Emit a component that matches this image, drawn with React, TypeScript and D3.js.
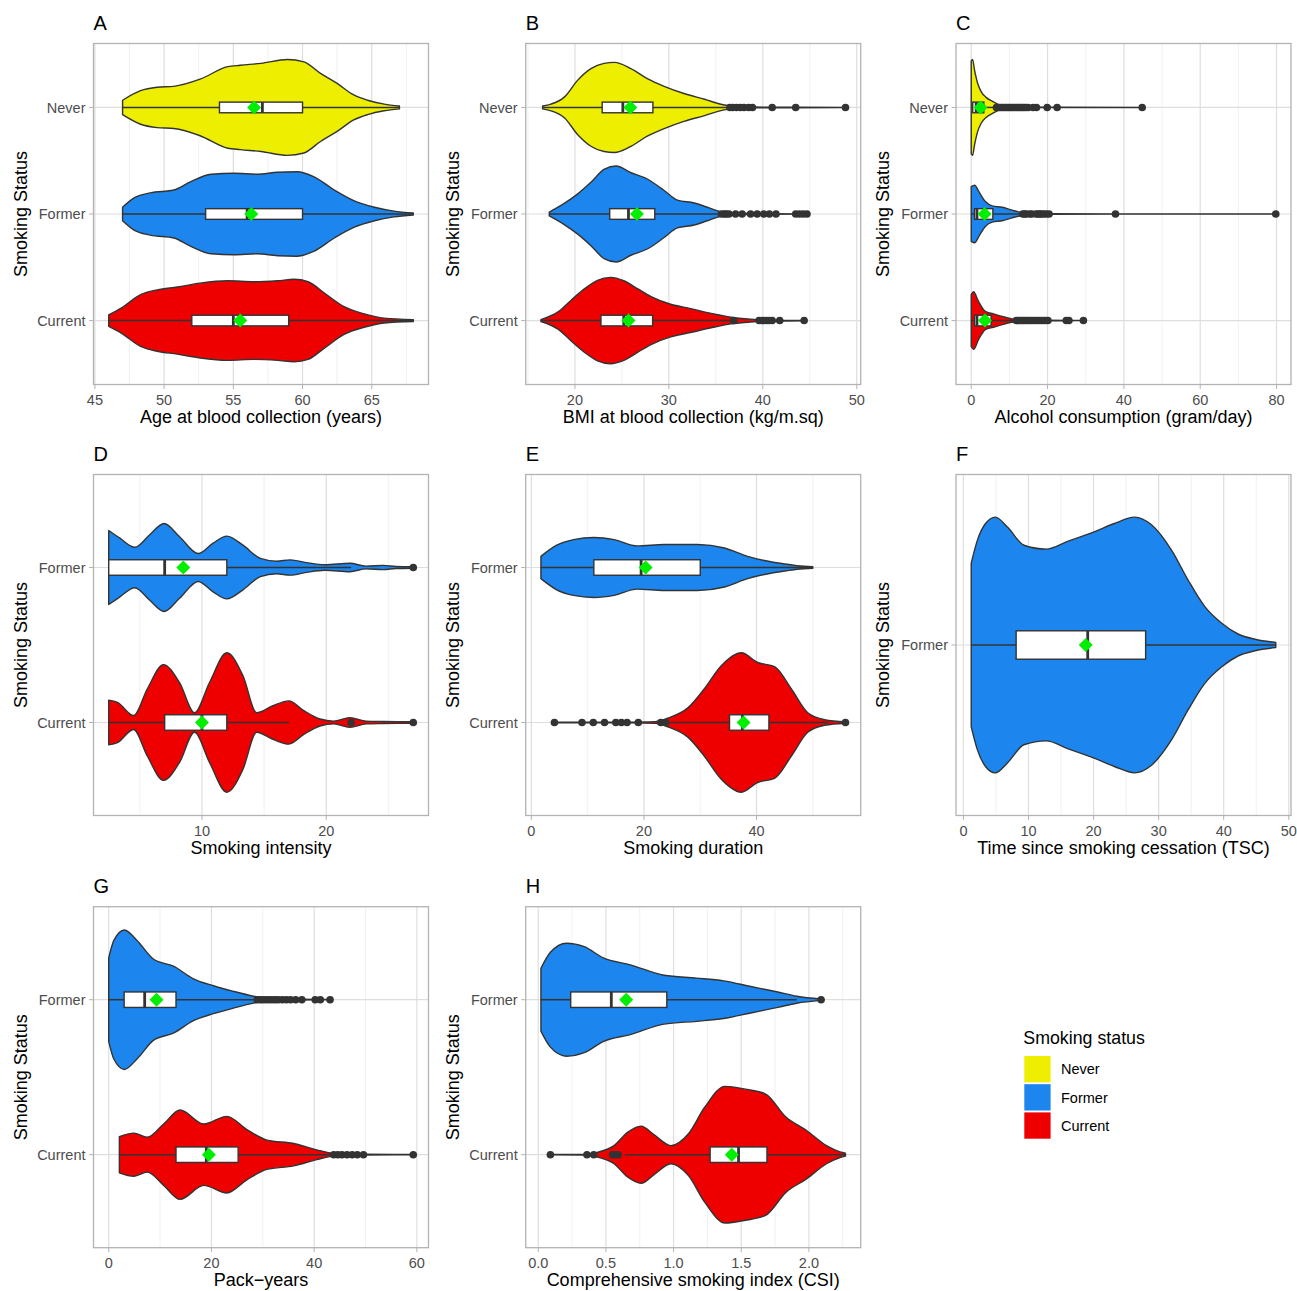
import React from 'react';
import * as d3 from 'd3';

type Pt = [number, number];

// ---------- categories & colours ----------
const CATS3 = ['Never', 'Former', 'Current'];
const CATS2 = ['Former', 'Current'];
const CATS1 = ['Former'];
const COLORS: Record<string, string> = { Never: '#EEEE00', Former: '#1C86EE', Current: '#EE0000' };

// ---------- A: age ----------
const ageNeverDens: Pt[] = [[47, 0.15], [48.3, 0.35], [49.5, 0.42], [50.7, 0.44], [52.6, 0.59], [54.6, 0.85], [55.5, 0.88], [57.0, 0.92], [58.9, 1.0], [60.1, 0.95], [61.3, 0.71], [62.5, 0.5], [63.7, 0.26], [64.7, 0.15], [65.9, 0.07], [67.0, 0.03]];
const ageFormerDens: Pt[] = [[47, 0.14], [47.8, 0.33], [49, 0.44], [50.7, 0.5], [51.9, 0.67], [53.4, 0.83], [55.05, 0.85], [56.7, 0.83], [58.2, 0.87], [59.6, 0.88], [60.8, 0.78], [62.3, 0.5], [63.7, 0.28], [65.2, 0.14], [66.6, 0.06], [68, 0.02]];
const ageCurrentDens: Pt[] = [[46, 0.12], [46.9, 0.26], [48.3, 0.54], [49.5, 0.64], [50.95, 0.7], [52.6, 0.78], [54.6, 0.83], [56.5, 0.81], [58.2, 0.83], [59.4, 0.86], [60.4, 0.81], [61.6, 0.57], [63.0, 0.29], [64.45, 0.14], [65.9, 0.05], [68, 0.02]];
// [lo, q1, median, q3, hi, mean]
const ageNeverStats = [47, 54, 57.1, 60, 67, 56.5];
const ageFormerStats = [47, 53, 56, 60, 68, 56.3];
const ageCurrentStats = [46, 52, 55, 59, 68, 55.5];
const ageTicks = [45, 50, 55, 60, 65];

// ---------- B: BMI ----------
const bmiNeverDens: Pt[] = [[16.56, 0.03], [17.45, 0.07], [18.9, 0.22], [20.3, 0.57], [21.7, 0.81], [23.1, 0.92], [24.2, 0.94], [25.96, 0.81], [27.7, 0.6], [29.5, 0.44], [31.6, 0.29], [33.8, 0.17], [35.9, 0.05], [37.3, 0.02], [39, 0.01], [41, 0.006], [43.5, 0.005], [48.8, 0.002]];
const bmiFormerDens: Pt[] = [[17.27, 0.04], [18.86, 0.22], [20.3, 0.42], [21.7, 0.66], [23.1, 0.93], [24.4, 1.0], [25.96, 0.86], [27.7, 0.73], [29.5, 0.49], [30.9, 0.29], [32.7, 0.23], [34.1, 0.14], [35.5, 0.05], [36.9, 0.02], [40, 0.008], [44.8, 0.003]];
const bmiCurrentDens: Pt[] = [[16.38, 0.02], [18.2, 0.18], [19.57, 0.42], [21, 0.66], [22.4, 0.84], [23.8, 0.9], [25.2, 0.83], [26.7, 0.66], [28.1, 0.5], [30.2, 0.34], [32.3, 0.25], [34.5, 0.15], [36.6, 0.07], [38.7, 0.03], [41, 0.01], [44.4, 0.003]];
const bmiNeverStats = [16.56, 22.9, 25.1, 28.3, 36.3, 25.9];
const bmiFormerStats = [17.27, 23.7, 25.7, 28.5, 35.5, 26.6];
const bmiCurrentStats = [16.38, 22.77, 25.2, 28.27, 36.5, 25.7];
const bmiNeverOut = [36.5, 36.8, 37.2, 37.6, 38.0, 38.5, 38.9, 41.0, 43.5, 48.8];
const bmiFormerOut = [35.6, 35.9, 36.1, 36.4, 37.1, 37.8, 38.7, 39.4, 40.1, 40.7, 41.4, 43.5, 43.9, 44.3, 44.7];
const bmiCurrentOut = [36.9, 39.6, 39.9, 40.1, 40.4, 40.7, 41.0, 41.8, 44.4];
const bmiTicks = [20, 30, 40, 50];

// ---------- C: alcohol ----------
const alcNeverDens: Pt[] = [[0, 0.97], [0.35, 1.0], [0.87, 0.78], [1.7, 0.5], [2.6, 0.33], [3.9, 0.21], [5.7, 0.12], [7.4, 0.05], [9.2, 0.02], [15, 0.008], [22.5, 0.004], [44.8, 0.002]];
const alcFormerDens: Pt[] = [[0, 0.57], [0.9, 0.6], [1.97, 0.47], [3.7, 0.26], [5.5, 0.17], [8.1, 0.14], [10.7, 0.08], [13.4, 0.03], [17, 0.012], [20.4, 0.006], [37.8, 0.002], [79.8, 0.001]];
const alcCurrentDens: Pt[] = [[0, 0.54], [0.6, 0.6], [1.9, 0.4], [3.7, 0.19], [5.8, 0.14], [8.4, 0.08], [11.0, 0.03], [15, 0.012], [20, 0.006], [25.5, 0.003], [29.5, 0.001]];
const alcNeverStats = [0, 0.4, 1.3, 3.3, 6.3, 2.45];
const alcFormerStats = [0, 0.87, 1.5, 5.67, 12.8, 3.5];
const alcCurrentStats = [0, 0.87, 1.5, 5.2, 11.6, 3.6];
const alcNeverOut = [6.6, 7.0, 7.4, 7.9, 8.3, 8.8, 9.2, 9.7, 10.1, 10.6, 11.0, 11.5, 12.0, 12.4, 12.9, 13.3, 13.8, 14.3, 14.9, 16.2, 17.1, 19.9, 22.5, 44.8];
const alcFormerOut = [13.5, 14.0, 14.4, 15.3, 15.9, 17.0, 17.5, 18.0, 18.4, 19.0, 19.7, 20.4, 37.8, 79.8];
const alcCurrentOut = [11.8, 12.3, 12.8, 13.3, 13.8, 14.3, 14.8, 15.3, 15.9, 16.5, 17.1, 17.7, 18.3, 18.9, 19.5, 20.1, 24.9, 25.6, 29.4];
const alcTicks = [0, 20, 40, 60, 80];

// ---------- D: smoking intensity ----------
const intFormerDens: Pt[] = [[2.5, 0.53], [3.4, 0.42], [4.6, 0.29], [5.8, 0.47], [6.95, 0.63], [8.2, 0.44], [9.7, 0.2], [10.9, 0.35], [12.0, 0.45], [13.3, 0.32], [14.7, 0.13], [16.0, 0.09], [17.1, 0.11], [18.4, 0.07], [19.9, 0.04], [21.9, 0.06], [23.2, 0.02], [24.6, 0.03], [25.6, 0.015], [27, 0.01]];
const intCurrentDens: Pt[] = [[2.5, 0.32], [3.2, 0.29], [4.5, 0.1], [5.6, 0.48], [6.9, 0.83], [8.2, 0.57], [9.4, 0.14], [10.6, 0.57], [12.0, 1.0], [13.3, 0.67], [14.4, 0.14], [15.7, 0.24], [17.0, 0.31], [18.2, 0.17], [19.5, 0.05], [20.6, 0.02], [21.9, 0.07], [23.2, 0.02], [24.6, 0.015], [27, 0.01]];
const intFormerStats = [2.5, 2.5, 7.0, 12.0, 22.0, 8.5];
const intCurrentStats = [2.5, 7.0, 10.0, 12.0, 17.0, 10.0];
const intFormerOut = [27];
const intCurrentOut = [22, 27];
const intTicks = [10, 20];

// ---------- E: smoking duration ----------
const durFormerDens: Pt[] = [[1.7, 0.16], [4.5, 0.32], [7.5, 0.4], [11.1, 0.43], [14.7, 0.4], [18.8, 0.31], [23.6, 0.33], [29.5, 0.33], [34.3, 0.28], [38.4, 0.16], [41.4, 0.1], [45, 0.05], [47.3, 0.025], [50, 0.01]];
const durCurrentDens: Pt[] = [[4.1, 0.004], [10, 0.005], [17, 0.006], [22, 0.012], [24.5, 0.07], [27.8, 0.21], [30.7, 0.48], [33.7, 0.81], [37.3, 1.0], [40.2, 0.86], [43.2, 0.8], [46.2, 0.48], [49.1, 0.14], [52.1, 0.04], [55.8, 0.01]];
const durFormerStats = [1.7, 11.1, 19.5, 30.0, 50, 20.3];
const durCurrentStats = [24.7, 35.2, 37.5, 42.2, 52.7, 37.7];
const durFormerOut: number[] = [];
const durCurrentOut = [4.1, 9.0, 11.0, 13.0, 15.0, 16.0, 17.0, 19.0, 23.0, 23.9, 55.8];
const durTicks = [0, 20, 40];

// ---------- F: time since cessation ----------
const tscFormerDens: Pt[] = [[1.2, 0.64], [2.15, 0.82], [3.4, 0.95], [4.9, 1.0], [6.8, 0.92], [9.3, 0.78], [12.7, 0.75], [16.0, 0.81], [20.1, 0.885], [23.2, 0.95], [26.3, 1.0], [28.9, 0.94], [32.0, 0.74], [34.5, 0.51], [37.1, 0.3], [39.7, 0.17], [42.2, 0.086], [44.8, 0.045], [48, 0.02]];
const tscFormerStats = [1.2, 8.1, 19.1, 28.0, 48, 18.8];
const tscTicks = [0, 10, 20, 30, 40, 50];

// ---------- G: pack-years ----------
const pyFormerDens: Pt[] = [[0, 0.6], [1.0, 0.85], [3.05, 1.0], [5.5, 0.85], [8.75, 0.58], [12.6, 0.48], [16.5, 0.3], [20.4, 0.2], [24.3, 0.12], [28.2, 0.05], [30.8, 0.015], [37, 0.006], [43.1, 0.002]];
const pyCurrentDens: Pt[] = [[2.07, 0.26], [4.9, 0.31], [7.5, 0.25], [10.7, 0.44], [13.9, 0.64], [18.5, 0.44], [23.0, 0.55], [26.9, 0.36], [30.8, 0.21], [36.0, 0.16], [40.5, 0.07], [43.8, 0.02], [50, 0.006], [59.3, 0.002]];
const pyFormerStats = [0, 3.0, 7.0, 13.1, 28.2, 9.3];
const pyCurrentStats = [2.07, 13.1, 19.0, 25.2, 43.3, 19.5];
const pyFormerOut = [28.9, 29.5, 30.0, 30.6, 31.2, 31.8, 32.4, 33.0, 33.8, 34.6, 35.4, 36.4, 37.6, 40.2, 41.2, 43.1];
const pyCurrentOut = [43.8, 44.6, 45.4, 46.4, 47.4, 48.4, 49.6, 59.3];
const pyTicks = [0, 20, 40, 60];

// ---------- H: CSI ----------
const csiFormerDens: Pt[] = [[0.02, 0.45], [0.09, 0.68], [0.21, 0.81], [0.34, 0.76], [0.48, 0.6], [0.68, 0.5], [0.93, 0.35], [1.17, 0.31], [1.37, 0.27], [1.57, 0.19], [1.77, 0.11], [1.91, 0.05], [2.09, 0.01]];
const csiCurrentDens: Pt[] = [[0.09, 0.003], [0.36, 0.006], [0.43, 0.03], [0.56, 0.13], [0.66, 0.32], [0.76, 0.41], [0.86, 0.28], [0.98, 0.13], [1.11, 0.3], [1.23, 0.68], [1.38, 0.98], [1.53, 0.94], [1.68, 0.87], [1.83, 0.54], [1.98, 0.35], [2.13, 0.13], [2.23, 0.04], [2.27, 0.02]];
const csiFormerStats = [0.02, 0.24, 0.54, 0.95, 1.91, 0.65];
const csiCurrentStats = [0.64, 1.27, 1.48, 1.69, 2.27, 1.43];
const csiFormerOut = [2.09];
const csiCurrentOut = [0.09, 0.36, 0.41, 0.55, 0.57, 0.59];
const csiTicks = [0, 0.5, 1, 1.5, 2];
const csiTickLabels = ['0.0', '0.5', '1.0', '1.5', '2.0'];

// ---------- layout ----------
const FONT = '"Liberation Sans", Arial, Helvetica, sans-serif';
const COL_LEFT = [93.5, 525.7, 956];
const ROW_TOP = [43.5, 474.5, 906.7];
const PLOT_W = 335;
const PLOT_H = 341;

interface PanelDef {
  tag: string; title: string; cats: string[]; dens: Pt[][]; stats: number[][]; out: number[][];
  ticks: number[]; tickLabels?: string[]; col: number; row: number;
}

const PANELS: PanelDef[] = [
  { tag: 'A', title: 'Age at blood collection (years)', cats: CATS3, dens: [ageNeverDens, ageFormerDens, ageCurrentDens], stats: [ageNeverStats, ageFormerStats, ageCurrentStats], out: [[], [], []], ticks: ageTicks, col: 0, row: 0 },
  { tag: 'B', title: 'BMI at blood collection (kg/m.sq)', cats: CATS3, dens: [bmiNeverDens, bmiFormerDens, bmiCurrentDens], stats: [bmiNeverStats, bmiFormerStats, bmiCurrentStats], out: [bmiNeverOut, bmiFormerOut, bmiCurrentOut], ticks: bmiTicks, col: 1, row: 0 },
  { tag: 'C', title: 'Alcohol consumption (gram/day)', cats: CATS3, dens: [alcNeverDens, alcFormerDens, alcCurrentDens], stats: [alcNeverStats, alcFormerStats, alcCurrentStats], out: [alcNeverOut, alcFormerOut, alcCurrentOut], ticks: alcTicks, col: 2, row: 0 },
  { tag: 'D', title: 'Smoking intensity', cats: CATS2, dens: [intFormerDens, intCurrentDens], stats: [intFormerStats, intCurrentStats], out: [intFormerOut, intCurrentOut], ticks: intTicks, col: 0, row: 1 },
  { tag: 'E', title: 'Smoking duration', cats: CATS2, dens: [durFormerDens, durCurrentDens], stats: [durFormerStats, durCurrentStats], out: [durFormerOut, durCurrentOut], ticks: durTicks, col: 1, row: 1 },
  { tag: 'F', title: 'Time since smoking cessation (TSC)', cats: CATS1, dens: [tscFormerDens], stats: [tscFormerStats], out: [[]], ticks: tscTicks, col: 2, row: 1 },
  { tag: 'G', title: 'Pack\u2212years', cats: CATS2, dens: [pyFormerDens, pyCurrentDens], stats: [pyFormerStats, pyCurrentStats], out: [pyFormerOut, pyCurrentOut], ticks: pyTicks, col: 0, row: 2 },
  { tag: 'H', title: 'Comprehensive smoking index (CSI)', cats: CATS2, dens: [csiFormerDens, csiCurrentDens], stats: [csiFormerStats, csiCurrentStats], out: [csiFormerOut, csiCurrentOut], ticks: csiTicks, tickLabels: csiTickLabels, col: 1, row: 2 },
];

const DARK = '#333333';

function Panel({ p }: { p: PanelDef }) {
  const left = COL_LEFT[p.col];
  const top = ROW_TOP[p.row];
  const right = left + PLOT_W;
  const bottom = top + PLOT_H;
  const allVals = [...p.dens.flat().map(d => d[0]), ...p.out.flat()];
  const mn = d3.min(allVals) as number;
  const mx = d3.max(allVals) as number;
  const pad = (mx - mn) * 0.05;
  const lo = mn - pad, hi = mx + pad;
  const x = d3.scaleLinear().domain([lo, hi]).range([left, right]);
  const y = d3.scalePoint<string>().domain(p.cats).range([top, bottom]).padding(0.6);
  const step = y.step();
  const maxHW = 0.45 * step;
  const boxHH = 0.05 * step;
  const s = p.ticks[1] - p.ticks[0];
  const minor: number[] = [];
  for (let t = p.ticks[0] - s / 2; t <= hi; t += s) if (t >= lo) minor.push(t);

  return (
    <g>
      {/* grid */}
      {minor.map((t, i) => (
        <line key={'mi' + i} x1={x(t)} x2={x(t)} y1={top} y2={bottom} stroke="#EDEDED" strokeWidth={0.8} />
      ))}
      {p.ticks.map((t, i) => (
        <line key={'ma' + i} x1={x(t)} x2={x(t)} y1={top} y2={bottom} stroke="#DEDEDE" strokeWidth={1.2} />
      ))}
      {p.cats.map(c => (
        <line key={'hg' + c} x1={left} x2={right} y1={y(c)} y2={y(c)} stroke="#DEDEDE" strokeWidth={1.2} />
      ))}
      {/* violins */}
      {p.cats.map((c, i) => {
        const cy = y(c) as number;
        const area = d3.area<Pt>()
          .x(d => x(d[0]))
          .y0(d => cy - d[1] * maxHW)
          .y1(d => cy + d[1] * maxHW)
          .curve(d3.curveMonotoneX);
        return <path key={'v' + c} d={area(p.dens[i]) || ''} fill={COLORS[c]} stroke={DARK} strokeWidth={1.4} strokeLinejoin="round" />;
      })}
      {/* boxplots */}
      {p.cats.map((c, i) => {
        const cy = y(c) as number;
        const [wl, q1, med, q3, wh] = p.stats[i];
        return (
          <g key={'b' + c}>
            <line x1={x(wl)} x2={x(q1)} y1={cy} y2={cy} stroke={DARK} strokeWidth={1.5} />
            <line x1={x(q3)} x2={x(wh)} y1={cy} y2={cy} stroke={DARK} strokeWidth={1.5} />
            <rect x={x(q1)} y={cy - boxHH} width={x(q3) - x(q1)} height={2 * boxHH} fill="#FFFFFF" stroke={DARK} strokeWidth={1.4} />
            <line x1={x(med)} x2={x(med)} y1={cy - boxHH} y2={cy + boxHH} stroke={DARK} strokeWidth={2.8} />
            {p.out[i].map((o, k) => (
              <circle key={k} cx={x(o)} cy={cy} r={3.8} fill={DARK} />
            ))}
          </g>
        );
      })}
      {/* means */}
      {p.cats.map((c, i) => {
        const cy = y(c) as number;
        const mx0 = x(p.stats[i][5]);
        const r = 7;
        return <path key={'m' + c} d={`M${mx0},${cy - r}L${mx0 + r},${cy}L${mx0},${cy + r}L${mx0 - r},${cy}Z`} fill="#00EE00" />;
      })}
      {/* border */}
      <rect x={left} y={top} width={PLOT_W} height={PLOT_H} fill="none" stroke="#B3B3B3" strokeWidth={1.3} />
      {/* axes */}
      {p.ticks.map((t, i) => (
        <g key={'xt' + i}>
          <line x1={x(t)} x2={x(t)} y1={bottom} y2={bottom + 4.5} stroke="#B3B3B3" strokeWidth={1} />
          <text x={x(t)} y={bottom + 20} textAnchor="middle" fontSize={14.5} fill="#4D4D4D" fontFamily={FONT}>
            {p.tickLabels ? p.tickLabels[i] : String(t)}
          </text>
        </g>
      ))}
      {p.cats.map(c => (
        <g key={'yt' + c}>
          <line x1={left - 4.5} x2={left} y1={y(c)} y2={y(c)} stroke="#B3B3B3" strokeWidth={1} />
          <text x={left - 8} y={(y(c) as number) + 5.2} textAnchor="end" fontSize={14.5} fill="#4D4D4D" fontFamily={FONT}>{c}</text>
        </g>
      ))}
      <text x={(left + right) / 2} y={bottom + 38.7} textAnchor="middle" fontSize={18} fill="#000" fontFamily={FONT}>{p.title}</text>
      <text transform={`translate(${left - 67},${(top + bottom) / 2}) rotate(-90)`} textAnchor="middle" fontSize={18} fill="#000" fontFamily={FONT}>Smoking Status</text>
      <text x={left} y={top - 13.5} fontSize={20} fill="#000" fontFamily={FONT}>{p.tag}</text>
    </g>
  );
}

function Legend() {
  const lx = 1024.3, ly = 1056;
  const keyS = 26.3, gap = 28.2;
  return (
    <g fontFamily={FONT}>
      <text x={1023.3} y={1043.6} fontSize={17.8} fill="#000">Smoking status</text>
      {CATS3.map((c, i) => (
        <g key={c}>
          <rect x={lx} y={ly + i * gap} width={keyS} height={keyS} fill={COLORS[c]} />
          <text x={1061} y={ly + i * gap + keyS / 2 + 5.2} fontSize={14.5} fill="#000">{c}</text>
        </g>
      ))}
    </g>
  );
}

export default function App() {
  return (
    <svg width={1297} height={1291} style={{ position: 'absolute', left: 0, top: 0, display: 'block', background: '#fff' }}>
      <rect width={1297} height={1291} fill="#FFFFFF" />
      {PANELS.map(p => <Panel key={p.tag} p={p} />)}
      <Legend />
    </svg>
  );
}
